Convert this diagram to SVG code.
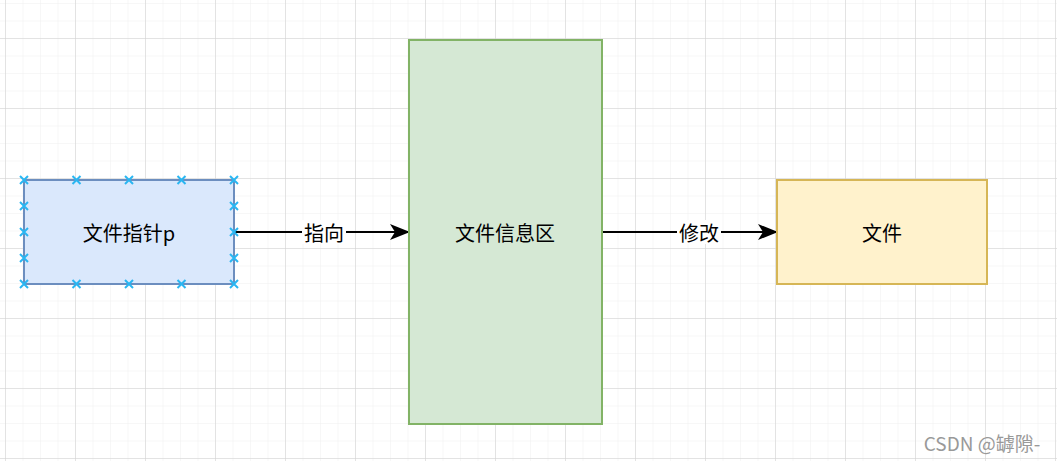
<svg xmlns="http://www.w3.org/2000/svg" width="1057" height="461" viewBox="0 0 1057 461">
<defs>
<pattern id="minor" x="5" y="3" width="17.5" height="17.5" patternUnits="userSpaceOnUse">
<path d="M0 0H17.5M0 0V17.5" fill="none" stroke="#f0f0f0" stroke-width="1"/>
</pattern>
<pattern id="major" x="5" y="38" width="70" height="70" patternUnits="userSpaceOnUse">
<path d="M0 0H70M0 0V70" fill="none" stroke="#d0d0d0" stroke-width="1"/>
</pattern>
<marker id="arr" viewBox="0 0 20 16" refX="19" refY="8" markerWidth="20" markerHeight="16" markerUnits="userSpaceOnUse" orient="auto">
<path d="M0 0L20 8L0 16L5 8Z" fill="#000"/>
</marker>
<g id="x">
<path d="M-4 -4L4 4M-4 4L4 -4" stroke="#29b6f2" stroke-width="2" fill="none"/>
</g>
</defs>
<style>
text{font-family:"Noto Sans CJK SC","Microsoft YaHei",sans-serif;font-size:20px;fill:#000;text-anchor:middle;dominant-baseline:central}
.edge{stroke:#000;stroke-width:2;fill:none;marker-end:url(#arr)}
.lbl{fill:#fff}
</style>
<rect width="1057" height="461" fill="#fff"/>
<rect width="1057" height="461" fill="url(#minor)"/>
<rect width="1057" height="461" fill="url(#major)"/>
<g id="connectors">
<line class="edge" x1="234" y1="232" x2="409" y2="232"/>
<rect class="lbl" x="302" y="220" width="44" height="24"/>
<text x="324" y="232">指向</text>
<line class="edge" x1="602" y1="232" x2="777" y2="232"/>
<rect class="lbl" x="677" y="220" width="44" height="24"/>
<text x="699" y="232">修改</text>
</g>
<g id="node-pointer">
<rect x="24" y="180" width="210" height="104" fill="#dae8fc" stroke="#6c8ebf" stroke-width="2"/>
<text x="129" y="232">文件指针p</text>
<use href="#x" x="24" y="180"/><use href="#x" x="76.5" y="180"/><use href="#x" x="129" y="180"/><use href="#x" x="181.5" y="180"/><use href="#x" x="234" y="180"/>
<use href="#x" x="24" y="284"/><use href="#x" x="76.5" y="284"/><use href="#x" x="129" y="284"/><use href="#x" x="181.5" y="284"/><use href="#x" x="234" y="284"/>
<use href="#x" x="24" y="206"/><use href="#x" x="24" y="232"/><use href="#x" x="24" y="258"/>
<use href="#x" x="234" y="206"/><use href="#x" x="234" y="232"/><use href="#x" x="234" y="258"/>
</g>
<g id="node-info">
<rect x="409" y="40" width="193" height="384" fill="#d5e8d4" stroke="#82b366" stroke-width="2"/>
<text x="505" y="232">文件信息区</text>
</g>
<g id="node-file">
<rect x="777" y="180" width="210" height="104" fill="#fff2cc" stroke="#d6b656" stroke-width="2"/>
<text x="882" y="232">文件</text>
</g>
<text x="982" y="442" style="font-size:19px;fill:#999">CSDN @罅隙-</text>
</svg>
